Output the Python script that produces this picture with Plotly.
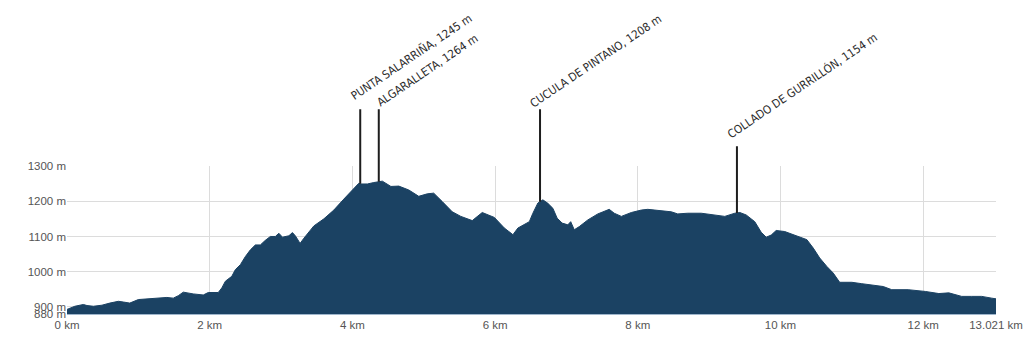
import numpy as np
import plotly.graph_objects as go

# Elevation profile (distance in km, elevation in m)
dist_km = [0.00, 0.11, 0.23, 0.28, 0.37, 0.49, 0.60, 0.72, 0.79, 0.88, 1.00, 1.12, 1.26, 1.40,
           1.49, 1.56, 1.63, 1.70, 1.77, 1.91, 1.98, 2.12, 2.17, 2.22, 2.31, 2.36, 2.43, 2.50,
           2.57, 2.64, 2.71, 2.78, 2.85, 2.92, 2.97, 3.02, 3.11, 3.16, 3.20, 3.25, 3.27, 3.32,
           3.46, 3.60, 3.74, 3.88, 4.02, 4.09, 4.12, 4.21, 4.30, 4.42, 4.54, 4.65, 4.79, 4.93,
           5.05, 5.14, 5.26, 5.40, 5.52, 5.68, 5.82, 5.99, 6.13, 6.25, 6.32, 6.41, 6.48, 6.53,
           6.60, 6.67, 6.74, 6.81, 6.87, 6.94, 7.02, 7.06, 7.11, 7.18, 7.30, 7.44, 7.60, 7.67,
           7.77, 7.91, 8.05, 8.14, 8.28, 8.47, 8.56, 8.70, 8.89, 9.08, 9.22, 9.36, 9.43, 9.52,
           9.64, 9.73, 9.80, 9.87, 9.94, 10.06, 10.18, 10.29, 10.37, 10.46, 10.55, 10.65, 10.74,
           10.83, 11.00, 11.14, 11.28, 11.44, 11.56, 11.79, 12.03, 12.22, 12.36, 12.54, 12.68,
           12.82, 12.96, 13.021]
elev_m = [893, 902, 907, 904, 902, 905, 911, 916, 914, 911, 921, 923, 925, 927,
          925, 932, 942, 939, 937, 934, 941, 941, 954, 973, 987, 1006, 1020, 1043,
          1062, 1076, 1076, 1089, 1100, 1100, 1109, 1098, 1102, 1111, 1102, 1086, 1081, 1095,
          1130, 1150, 1175, 1206, 1237, 1251, 1249, 1249, 1253, 1257, 1242, 1243, 1232, 1214,
          1221, 1223, 1199, 1170, 1157, 1145, 1168, 1154, 1124, 1105, 1124, 1133, 1142, 1166,
          1195, 1204, 1194, 1180, 1152, 1138, 1133, 1142, 1119, 1128, 1147, 1164, 1177, 1166,
          1157, 1168, 1175, 1177, 1174, 1170, 1164, 1166, 1166, 1161, 1157, 1166, 1168, 1161,
          1142, 1112, 1098, 1104, 1117, 1114, 1105, 1098, 1091, 1067, 1039, 1015, 996,
          970, 970, 966, 962, 958, 949, 949, 944, 938, 940, 930, 930,
          930, 925, 923]

# Named points
peak_names = ["PUNTA SALARRIÑA, 1245 m", "ALGARALLETA, 1264 m",
              "CUCULA DE PINTANO, 1208 m", "COLLADO DE GURRILLÓN, 1154 m"]
peak_km = [4.11, 4.37, 6.63, 9.39]
label_top_m = [1465, 1465, 1465, 1360]
label_dx = [-15, -7, -15, -16]
label_dy = [2, -4, -5, 1]

# Axis ticks
x_tickvals = [0, 2, 4, 6, 8, 10, 12, 13.021]
x_ticktext = ["0 km", "2 km", "4 km", "6 km", "8 km", "10 km", "12 km", "13.021 km"]
y_tickvals = [880, 900, 1000, 1100, 1200, 1300]
y_ticktext = ["880 m", "900 m", "1000 m", "1100 m", "1200 m", "1300 m"]

Y_MIN, Y_MAX = 880, 1300
FILL = "#1b4263"
fig = go.Figure()
fig.add_trace(go.Scatter(
    x=dist_km, y=elev_m, mode="lines", fill="tozeroy",
    fillcolor=FILL, line=dict(color=FILL, width=1), hoverinfo="skip",
))

annotations = []
label_font = dict(family="Liberation Sans Narrow, DejaVu Sans Condensed, Arial Narrow, sans-serif",
                  size=11.5, color="#2b2b2b")
for name, km, top, dx, dy in zip(peak_names, peak_km, label_top_m, label_dx, label_dy):
    base = float(np.interp(km, dist_km, elev_m))
    annotations.append(dict(
        x=km, y=base, xref="x", yref="y",
        ax=km, ay=top, axref="x", ayref="y",
        text="", showarrow=True, arrowhead=0, arrowwidth=2,
        arrowcolor="#1e1e1e", standoff=0, startstandoff=0,
    ))
    annotations.append(dict(
        x=km, y=(top - Y_MIN) / (Y_MAX - Y_MIN), xref="x", yref="paper",
        text=name, showarrow=False,
        textangle=-34, xanchor="left", yanchor="bottom", xshift=dx, yshift=dy,
        font=label_font,
    ))

tick_font = dict(family="Liberation Sans, Arial, sans-serif", size=11.5, color="#555555")
fig.update_layout(
    width=1024, height=341,
    margin=dict(l=67, r=28, t=166, b=27),
    paper_bgcolor="white", plot_bgcolor="white",
    showlegend=False,
    annotations=annotations,
    xaxis=dict(
        range=[0, 13.021], tickvals=x_tickvals, ticktext=x_ticktext,
        showgrid=True, gridcolor="#dcdcdc", gridwidth=1, automargin=False,
        zeroline=False, showline=True, linecolor="#9fb6cc", linewidth=1,
        ticks="", tickfont=tick_font,
    ),
    yaxis=dict(
        range=[Y_MIN, Y_MAX], tickvals=y_tickvals, ticktext=y_ticktext,
        showgrid=True, gridcolor="#dcdcdc", gridwidth=1, automargin=False,
        zeroline=False, showline=False,
        ticks="", tickfont=tick_font,
    ),
)

fig.write_html("out.html")
